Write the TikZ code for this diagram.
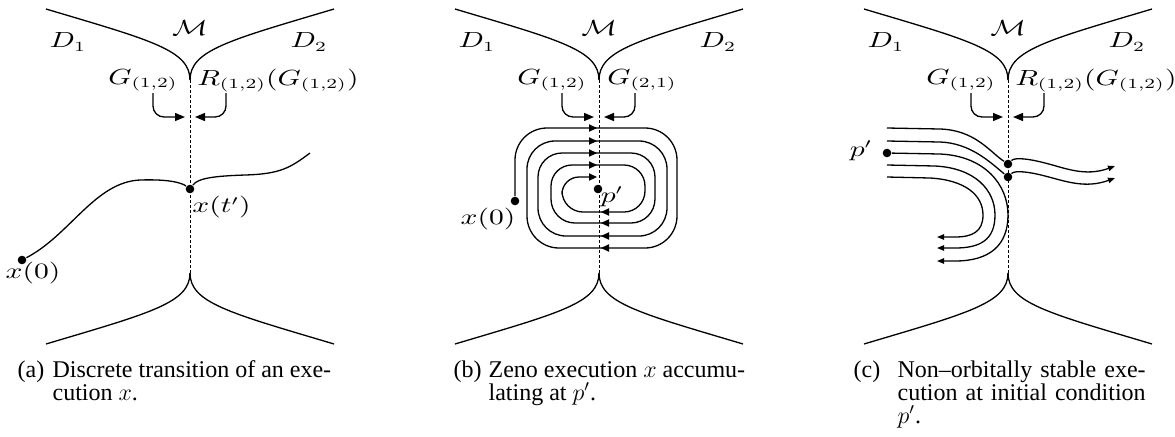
\documentclass[tikz,border=0pt]{standalone}
\usepackage[no-math]{fontspec}
\setmainfont{Liberation Serif}[Ligatures=TeX]
\usepackage{graphicx}
\usetikzlibrary{arrows.meta}
\newcommand{\lbltext}[1]{\scalebox{1.35}[1]{$#1$}}
\tikzset{
  dashline/.style={line width=0.45pt, dash pattern=on 1.5pt off 1pt},
  dotnode/.style={circle, fill=black, draw=none, inner sep=0pt, minimum size=4.3pt},
  lbl/.style={inner sep=0pt, font=\fontsize{10.5}{12}\selectfont},
  captext/.style={inner sep=0pt, anchor=base west, font=\rmfamily\fontsize{12}{12}\selectfont},
  gtip/.style={-{Triangle[length=5pt,width=4pt]}},
  ztip/.style={-{Triangle[length=4pt,width=3.6pt]}},
  ctip/.style={-{Triangle[length=3.5pt,width=2.7pt]}},
}
% #1 prefix, #2 x shift, #3 right label, #4 x of right label
\newcommand{\panelframe}[4]{%
\begin{scope}[shift={(#2,0)}]
  \coordinate (#1cusptop) at (190,80);
  \coordinate (#1cuspbot) at (190,273);
  \draw (46,9) .. controls (150,40) and (190,50) .. (#1cusptop);
  \draw (334,9) .. controls (230,40) and (190,50) .. (#1cusptop);
  \draw (46,344) .. controls (150,313) and (190,303) .. (#1cuspbot);
  \draw (334,344) .. controls (230,313) and (190,303) .. (#1cuspbot);
  \draw[dashline] (#1cusptop) -- (#1cuspbot);
  \node[lbl] (#1M) at (190,28) {\lbltext{\mathcal{M}}};
  \node[lbl] (#1D1) at (68,42) {\lbltext{D_1}};
  \node[lbl] (#1D2) at (309,42) {\lbltext{D_2}};
  \node[lbl] (#1G) at (143,80) {\lbltext{G_{(1,2)}}};
  \node[lbl] (#1R) at (#4,80) {\lbltext{#3}};
  \coordinate (#1la) at (153,93);
  \coordinate (#1lb) at (185,117);
  \coordinate (#1ra) at (226,93);
  \coordinate (#1rb) at (195,117);
  \draw[gtip, rounded corners=5.5pt] (#1la) |- (#1lb);
  \draw[gtip, rounded corners=5.5pt] (#1ra) |- (#1rb);
\end{scope}}

\begin{document}
\begin{tikzpicture}[x=0.5pt, y=-0.5pt, line width=0.65pt]
\useasboundingbox (0,0) rectangle (1175,436);

% ---------- frames ----------
\panelframe{a}{0}{R_{(1,2)}\bigl(G_{(1,2)}\bigr)}{278}
\panelframe{b}{409}{G_{(2,1)}}{233}
\panelframe{c}{818}{R_{(1,2)}\bigl(G_{(1,2)}\bigr)}{278}

% ---------- panel (a) ----------
\node[dotnode] (ax0) at (22,260) {};
\node[dotnode] (axt) at (190,189) {};
\coordinate (aend) at (310,153);
\draw (ax0) .. controls (70,235) and (95,182) .. (140,180)
            .. controls (170,179) and (182,183) .. (axt);
\draw (axt) .. controls (198,178) and (215,176) .. (245,175)
            .. controls (280,174) and (290,168) .. (aend);
\node[lbl] (ax0l) at (33,273) {\lbltext{x(0)}};
\node[lbl] (axtl) at (221.5,207.5) {\lbltext{x(t')}};

% ---------- panel (b) ----------
\node[dotnode] (bx0) at (515,201) {};
\node[dotnode] (bp) at (598,189) {};
\coordinate (bend) at (597,177);
\draw[ztip] (bx0) [rounded corners=16pt] -- (515,128) -- (677,128) -- (677,248) -- (527,248)
  [rounded corners=14pt] -- (527,141) -- (667,141) -- (667,236) -- (538,236)
  [rounded corners=12pt] -- (538,153) -- (655,153) -- (655,223) -- (551,223)
  [rounded corners=10.5pt] -- (551,165) -- (645,165) -- (645,212) -- (562,212)
  [rounded corners=8.5pt] -- (562,177) -- (bend);
\foreach \yy in {128,141,153,165}{
  \draw[ztip] (590,\yy) -- (597,\yy);
}
\foreach \yy in {212,223,236,248}{
  \draw[ztip] (608,\yy) -- (601,\yy);
}
\node[lbl] (bx0l) at (488,219) {\lbltext{x(0)}};
\node[lbl] (bpl) at (612,197) {\lbltext{p'}};

% ---------- panel (c) ----------
\node[dotnode] (cp) at (887,153) {};
\node[dotnode] (cu) at (1008,164) {};
\node[dotnode] (cl) at (1008,177) {};
\coordinate (c1) at (887,128);
\coordinate (c2) at (887,141);
\coordinate (c4) at (887,165);
\coordinate (c5) at (887,177);
\coordinate (cue) at (1115,166);
\coordinate (cle) at (1115,178);
\coordinate (cpe) at (937,261);
\coordinate (c4e) at (937,248);
\coordinate (c5e) at (937,237);
\draw (c1) -- (940,129) .. controls (975,130) and (990,152) .. (cu);
\draw (c2) -- (940,142) .. controls (970,143) and (990,162) .. (cl);
\draw[ctip] (cp) -- (940,154) .. controls (985,156) and (1008,185) .. (1008,215)
            .. controls (1008,245) and (990,261) .. (955,261) -- (cpe);
\draw[ctip] (c4) -- (935,166) .. controls (975,168) and (995,190) .. (995,215)
            .. controls (995,240) and (980,248) .. (955,248) -- (c4e);
\draw[ctip] (c5) -- (930,178) .. controls (965,180) and (983,195) .. (983,215)
            .. controls (983,232) and (972,237) .. (955,237) -- (c5e);
\draw[ctip] (cu) .. controls (1015,157) and (1030,159) .. (1045,163)
            .. controls (1065,168) and (1085,177) .. (cue);
\draw[ctip] (cl) .. controls (1015,170) and (1030,172) .. (1045,176)
            .. controls (1065,181) and (1085,189) .. (cle);
\node[lbl] (cpl) at (861,151) {\lbltext{p'}};

% ---------- captions ----------
\node[captext] (capa0) at (17,377) {(a)};
\node[captext] (capa1) at (52,377) {Discrete transition of an exe-};
\node[captext] (capa2) at (52,400) {cution $x$.};
\node[captext] (capb0) at (453,377) {(b)};
\node[captext] (capb1) at (488,377) {Zeno execution $x$ accumu-};
\node[captext] (capb2) at (488,400) {lating at $p'$.};
\node[captext] (capc0) at (853,377) {(c)};
\node[captext] (capc1) at (897,377) {\makebox[124pt][s]{Non\textendash orbitally stable exe-}};
\node[captext] (capc2) at (897,400) {\makebox[124pt][s]{cution at initial condition}};
\node[captext] (capc3) at (897,423) {$p'$.};
\end{tikzpicture}
\end{document}
